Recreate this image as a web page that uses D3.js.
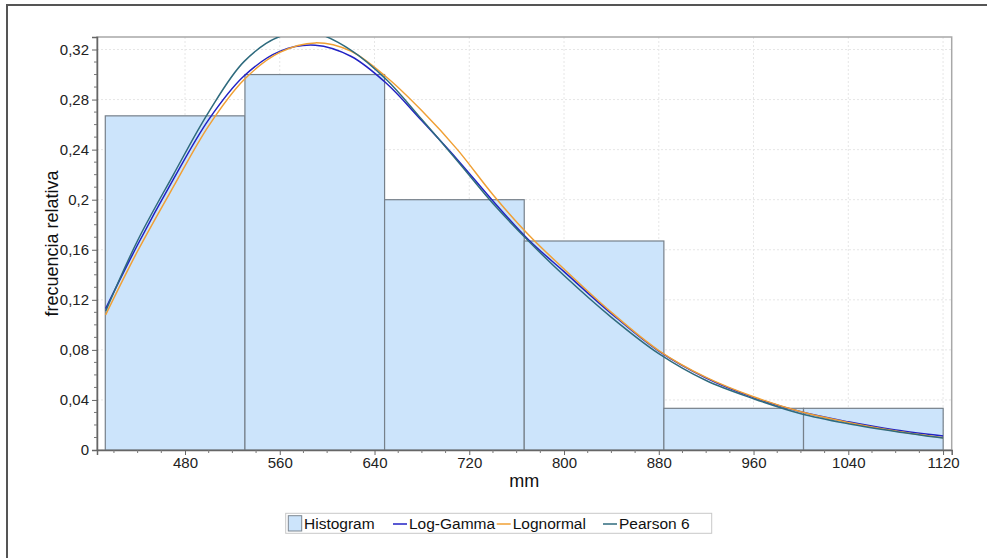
<!DOCTYPE html>
<html>
<head>
<meta charset="utf-8">
<script src="https://cdn.jsdelivr.net/npm/d3@7"></script>
<style>
  body { margin: 0; background: #fff; }
  svg { display: block; font-family: Arial, "Liberation Sans", sans-serif; }
</style>
</head>
<body>
<div id="chart"></div>
<script>
const W = 987, H = 558;

// histogram bins (mm) and relative frequencies
const binEdges = [412.7, 530.6, 648.5, 766.4, 884.3, 1002.2, 1120.1];
const binFreqs = [0.267, 0.300, 0.200, 0.167, 0.0333, 0.0333];

// fitted curves
const curveX = [413, 440, 470, 500, 530, 560, 590, 620, 650, 680, 710, 740, 770, 800, 840, 880, 920, 960, 1000, 1040, 1080, 1120];
const logGamma = [0.113, 0.164, 0.216, 0.264, 0.299, 0.3185, 0.3234, 0.3146, 0.293, 0.263, 0.232, 0.199, 0.168, 0.1425, 0.109, 0.079, 0.0575, 0.042, 0.0305, 0.0225, 0.016, 0.0112];
const lognormal = [0.108, 0.159, 0.210, 0.259, 0.296, 0.3177, 0.3253, 0.3187, 0.298, 0.271, 0.240, 0.204, 0.172, 0.1446, 0.110, 0.0795, 0.058, 0.0425, 0.0305, 0.022, 0.0152, 0.0098];
const pearson6 = [0.111, 0.1674, 0.2197, 0.270, 0.3105, 0.3304, 0.3331, 0.3196, 0.296, 0.264, 0.231, 0.197, 0.167, 0.1394, 0.106, 0.077, 0.0555, 0.041, 0.029, 0.021, 0.0148, 0.0095];

const xTicks = [480, 560, 640, 720, 800, 880, 960, 1040, 1120];
const yTicks = [0, 0.04, 0.08, 0.12, 0.16, 0.2, 0.24, 0.28, 0.32];

const series = [
  { name: 'Log-Gamma', values: logGamma, color: '#2222c4' },
  { name: 'Lognormal', values: lognormal, color: '#f0a035' },
  { name: 'Pearson 6', values: pearson6, color: '#2f6b7e' },
];

const plot = { left: 97, right: 951.7, top: 37, bottom: 450 };

const svg = d3.select('#chart').append('svg').attr('width', W).attr('height', H);

// outer frame (only left and top visible)
svg.append('line').attr('x1', 7).attr('x2', 7).attr('y1', 5).attr('y2', H).attr('stroke', '#555').attr('stroke-width', 2);
svg.append('line').attr('x1', 6).attr('x2', W).attr('y1', 5).attr('y2', 5).attr('stroke', '#555').attr('stroke-width', 2);

const x = d3.scaleLinear().domain([405.7, 1127.3]).range([plot.left, plot.right]);
const y = d3.scaleLinear().domain([0, 0.33]).range([plot.bottom, plot.top]);

const fmt = (v) => d3.format('.2~f')(v).replace('.', ',');

// grid
const grid = svg.append('g');
xTicks.forEach((t) => {
  grid.append('line').attr('x1', x(t)).attr('x2', x(t)).attr('y1', plot.top).attr('y2', plot.bottom)
    .attr('stroke', '#e6e6e6').attr('stroke-dasharray', '2 2');
});
yTicks.forEach((t) => {
  grid.append('line').attr('x1', plot.left).attr('x2', plot.right).attr('y1', y(t)).attr('y2', y(t))
    .attr('stroke', '#e6e6e6').attr('stroke-dasharray', '2 2');
});

// plot frame
svg.append('rect').attr('x', plot.left).attr('y', plot.top)
  .attr('width', plot.right - plot.left).attr('height', plot.bottom - plot.top)
  .attr('fill', 'none').attr('stroke', '#a8a8a8').attr('stroke-width', 1.5);

// histogram bars
svg.append('g').selectAll('rect').data(binFreqs).join('rect')
  .attr('x', (d, i) => x(binEdges[i]))
  .attr('y', (d) => y(d))
  .attr('width', (d, i) => x(binEdges[i + 1]) - x(binEdges[i]))
  .attr('height', (d) => y(0) - y(d))
  .attr('fill', '#cce4fb')
  .attr('stroke', '#76808a')
  .attr('stroke-width', 1.2);

// curves, clipped to plot area
svg.append('clipPath').attr('id', 'clip').append('rect')
  .attr('x', plot.left).attr('y', plot.top)
  .attr('width', plot.right - plot.left).attr('height', plot.bottom - plot.top);

const line = d3.line()
  .x((d) => x(d[0]))
  .y((d) => y(d[1]))
  .curve(d3.curveCatmullRom.alpha(0.5));

const curves = svg.append('g').attr('clip-path', 'url(#clip)');
series.forEach((s) => {
  curves.append('path')
    .datum(curveX.map((v, i) => [v, s.values[i]]))
    .attr('fill', 'none')
    .attr('stroke', s.color)
    .attr('stroke-width', 1.5)
    .attr('d', line);
});

// axes
const xAxis = svg.append('g').attr('transform', `translate(0, ${plot.bottom})`)
  .call(d3.axisBottom(x).tickValues(xTicks).tickFormat(d3.format('d')).tickSize(5).tickPadding(2));
const yAxis = svg.append('g').attr('transform', `translate(${plot.left}, 0)`)
  .call(d3.axisLeft(y).tickValues(yTicks).tickFormat(fmt).tickSize(5).tickPadding(3));

// minor ticks
const xMinor = d3.range(420, 1121, 20).filter((v) => v % 80 !== 0);
xMinor.forEach((t) => {
  svg.append('line').attr('x1', x(t)).attr('x2', x(t)).attr('y1', plot.bottom).attr('y2', plot.bottom + 3).attr('stroke', '#777');
});
d3.range(0.01, 0.33, 0.01).forEach((t) => {
  if (Math.abs(t / 0.04 - Math.round(t / 0.04)) < 1e-6) return;
  svg.append('line').attr('x1', plot.left - 3).attr('x2', plot.left).attr('y1', y(t)).attr('y2', y(t)).attr('stroke', '#777');
});

[xAxis, yAxis].forEach((ax) => {
  ax.select('.domain').attr('stroke', '#666').attr('stroke-width', 1.5);
  ax.selectAll('.tick line').attr('stroke', '#666');
  ax.selectAll('.tick text').attr('fill', '#222').style('font-size', '15px').style('font-family', 'Arial, "Liberation Sans", sans-serif');
});

// axis titles
svg.append('text')
  .attr('x', (plot.left + plot.right) / 2)
  .attr('y', 487)
  .attr('text-anchor', 'middle')
  .style('font-size', '18px')
  .attr('fill', '#111')
  .text('mm');

svg.append('text')
  .attr('transform', 'rotate(-90)')
  .attr('x', -(plot.top + plot.bottom) / 2)
  .attr('y', 58)
  .attr('text-anchor', 'middle')
  .style('font-size', '18px')
  .attr('fill', '#111')
  .text('frecuencia relativa');

// legend
const legend = svg.append('g');
legend.append('rect').attr('x', 285.7).attr('y', 513.3).attr('width', 426).attr('height', 20)
  .attr('fill', '#fff').attr('stroke', '#c8c8c8');
legend.append('rect').attr('x', 288.3).attr('y', 515.7).attr('width', 13.4).attr('height', 15.3)
  .attr('fill', '#cce4fb').attr('stroke', '#7d8791');
legend.append('text').attr('x', 304).attr('y', 529).style('font-size', '15.5px').attr('fill', '#111').text('Histogram');

const legendPos = [393, 496.7, 603];
series.forEach((s, i) => {
  const lx = legendPos[i];
  legend.append('line').attr('x1', lx).attr('x2', lx + 14).attr('y1', 524).attr('y2', 524)
    .attr('stroke', s.color).attr('stroke-width', 1.5);
  legend.append('text').attr('x', lx + 16).attr('y', 529).style('font-size', '15.5px').attr('fill', '#111').text(s.name);
});
</script>
</body>
</html>
